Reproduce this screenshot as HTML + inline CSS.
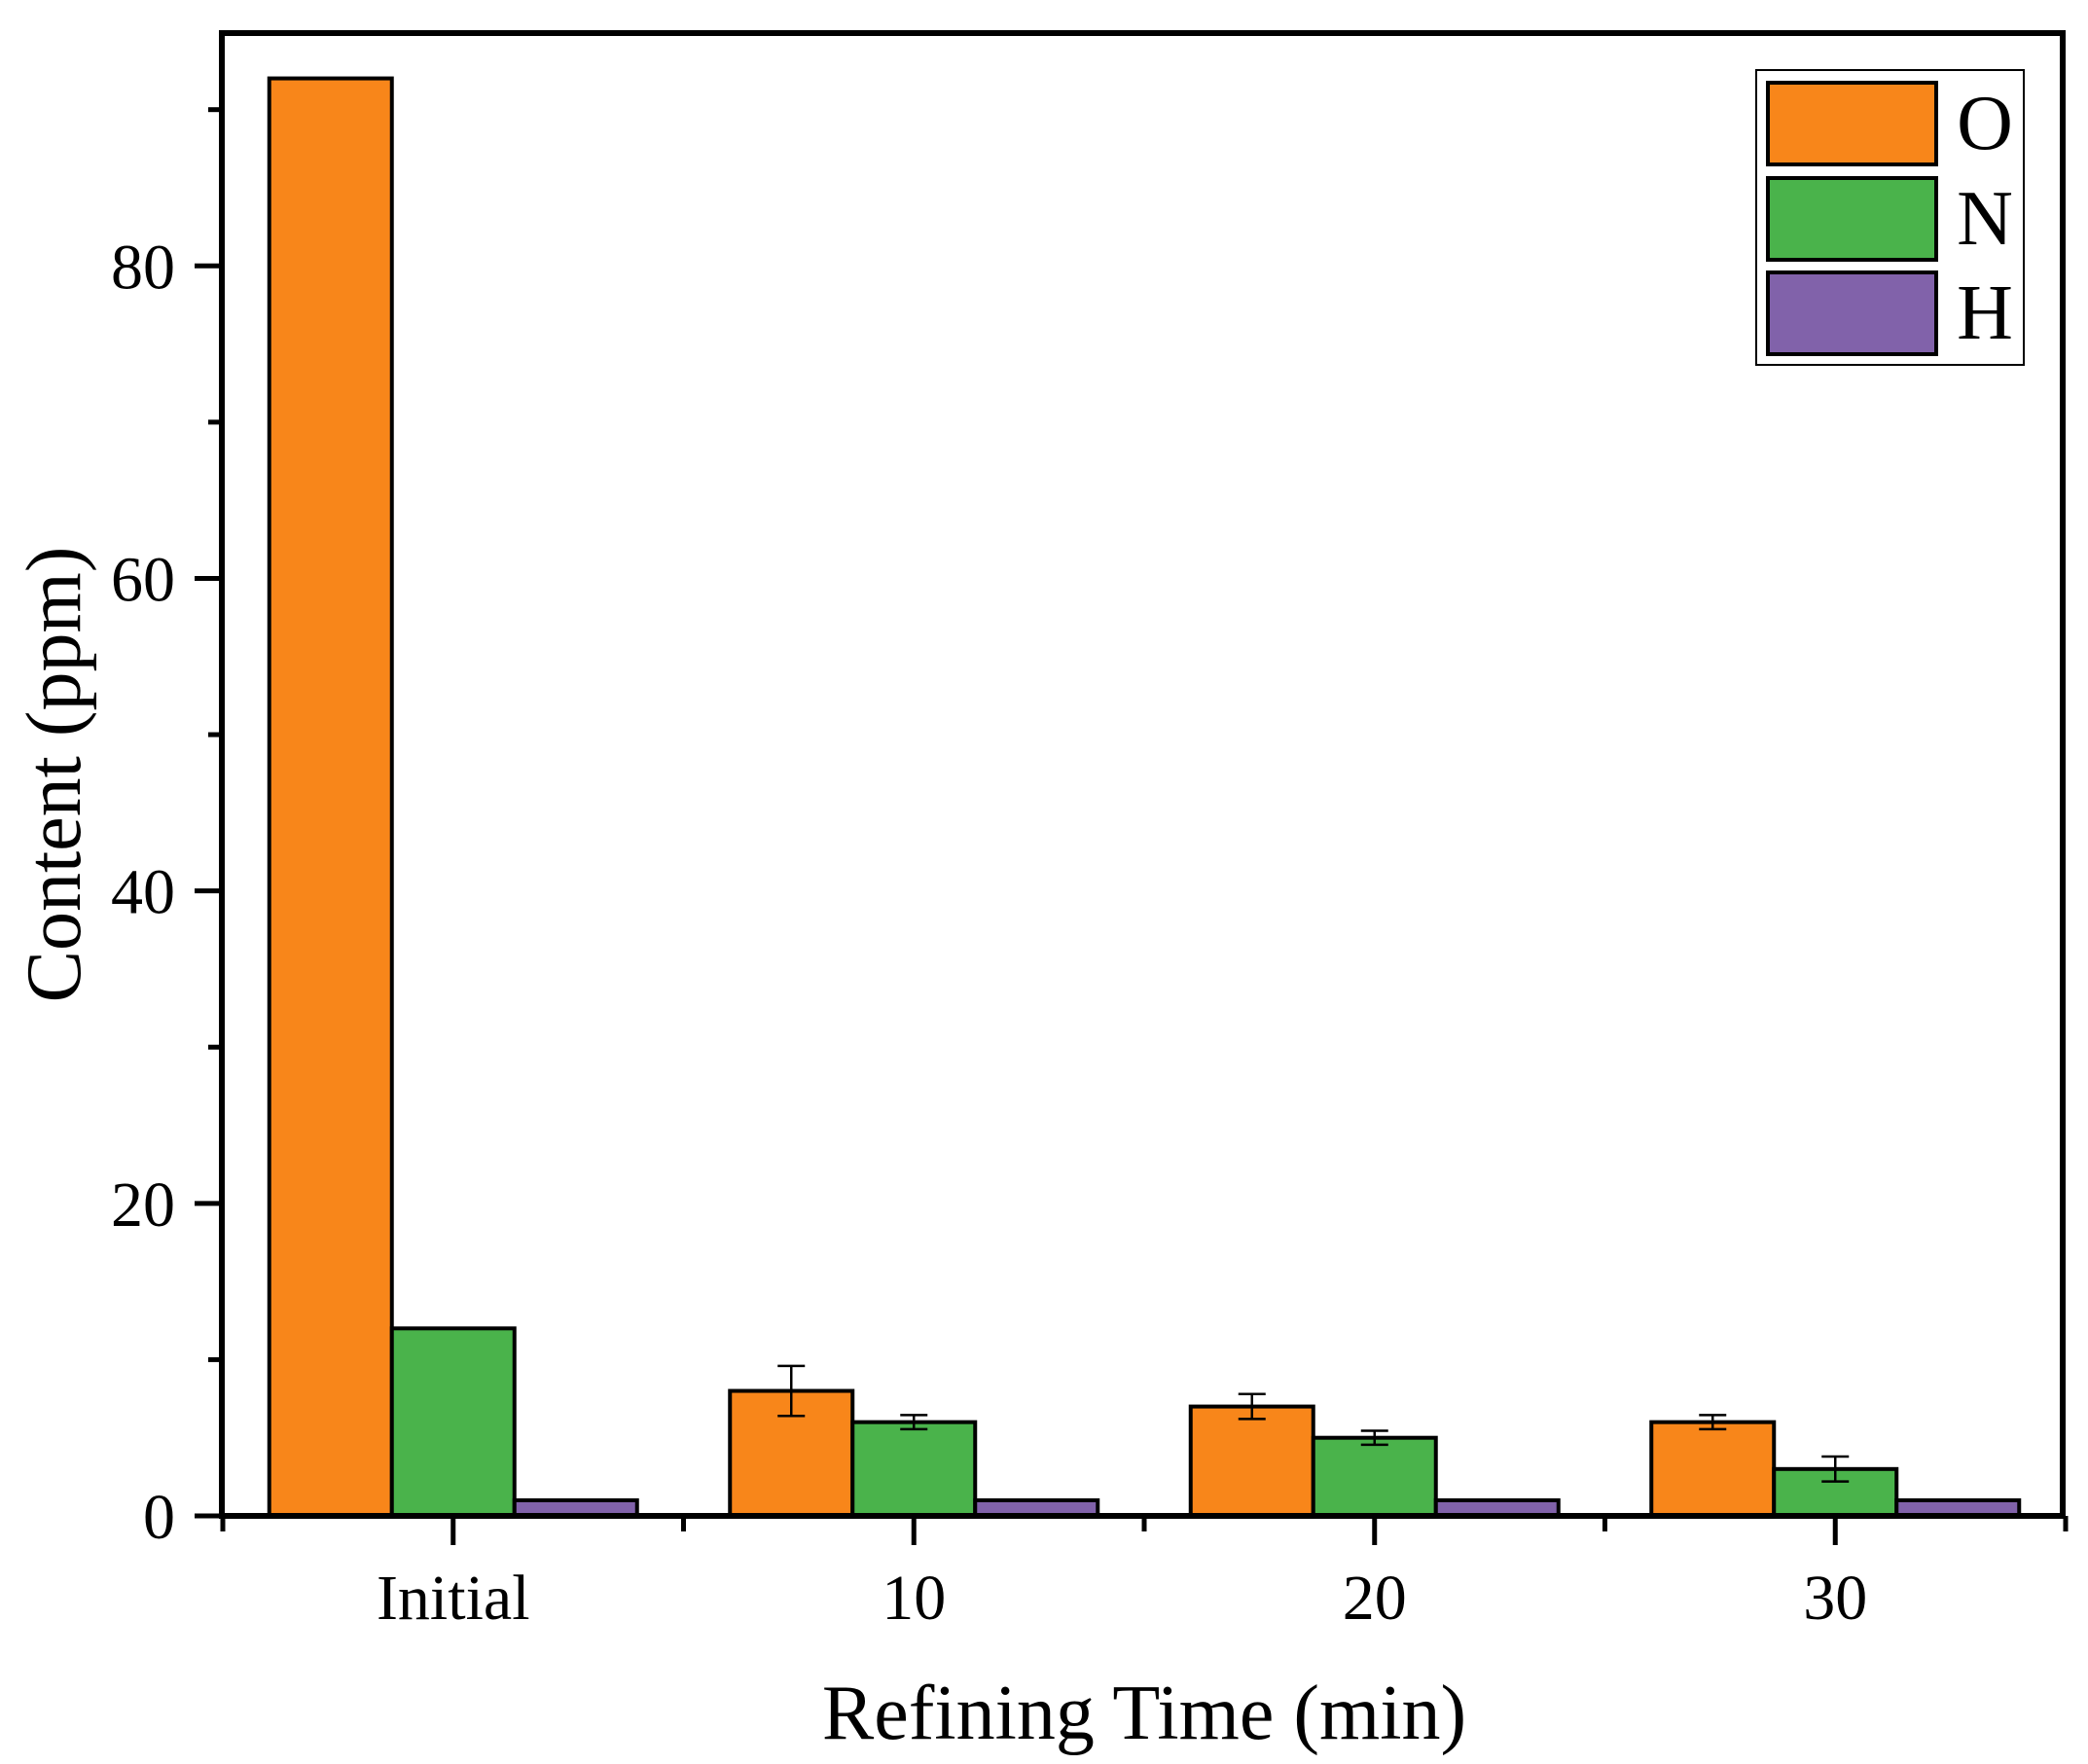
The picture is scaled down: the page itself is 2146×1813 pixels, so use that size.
<!DOCTYPE html>
<html><head><meta charset="utf-8"><style>
html,body{margin:0;padding:0;background:#fff;}
svg{display:block;font-family:"Liberation Serif",serif;}
</style></head><body>
<svg id="chart" width="2146" height="1813" viewBox="0 0 2146 1813" xmlns="http://www.w3.org/2000/svg">
<rect x="0" y="0" width="2146" height="1813" fill="#fff"/>
<g id="bars"></g>
<g id="axes"></g>
<text x="1176" y="1787" font-size="80" text-anchor="middle">Refining Time (min)</text>
<text transform="translate(82,796) rotate(-90)" font-size="80" text-anchor="middle">Content (ppm)</text>
<g>
<rect x="1805" y="72" width="275" height="303" fill="#fff" stroke="#000" stroke-width="2"/>
<g><rect x="1817" y="85" width="173" height="84" fill="#F8861A" stroke="#000" stroke-width="4"/><text x="2040" y="153" font-size="80" text-anchor="middle">O</text></g>
<g><rect x="1817" y="183" width="173" height="84" fill="#4AB34B" stroke="#000" stroke-width="4"/><text x="2040" y="251" font-size="80" text-anchor="middle">N</text></g>
<g><rect x="1817" y="280" width="173" height="84" fill="#8162AA" stroke="#000" stroke-width="4"/><text x="2040" y="348" font-size="80" text-anchor="middle">H</text></g>
</g>
</svg>
<script>
const categories = ["Initial", "10", "20", "30"];
const seriesNames = ["O", "N", "H"];
const valuesO = [92, 8, 7, 6];
const valuesN = [12, 6, 5, 3];
const valuesH = [1, 1, 1, 1];
const errO = [0, 1.6, 0.8, 0.45];
const errN = [0, 0.45, 0.45, 0.8];
const errH = [0, 0, 0, 0];
const yTicks = [0, 20, 40, 60, 80];
const yMinorTicks = [10, 30, 50, 70, 90];

const colors = ["#F8861A", "#4AB34B", "#8162AA"];
const NS = "http://www.w3.org/2000/svg";
const L = 228, R = 2120, T = 34, B = 1558;
const yMax = 94.9;
function yScale(v){ return B - v * (B - T) / yMax; }
const groupStart = 229, groupW = 473.5;
function xCenter(i){ return groupStart + groupW * (i + 0.5); }
const barW = 126;

function mk(tag, attrs, parent){
  const el = document.createElementNS(NS, tag);
  for (const k in attrs) el.setAttribute(k, attrs[k]);
  parent.appendChild(el);
  return el;
}
const bars = document.getElementById('bars');
const axes = document.getElementById('axes');
const allVals = [valuesO, valuesN, valuesH];
const allErr = [errO, errN, errH];
categories.forEach((c, i) => {
  allVals.forEach((vals, s) => {
    const x = xCenter(i) + (s - 1.5) * barW;
    const y = yScale(vals[i]);
    const r = mk('rect', {x: x, y: y, width: barW, height: B - y, fill: colors[s], stroke: '#000', 'stroke-width': 4}, bars);
    
    
    const e = allErr[s][i];
    if (e > 0) {
      const cx = x + barW / 2;
      const g = mk('g', {stroke: '#000', 'stroke-width': 2.5}, bars);
      
      
      mk('line', {x1: cx, x2: cx, y1: yScale(vals[i] + e), y2: yScale(vals[i] - e)}, g);
      mk('line', {x1: cx - 14, x2: cx + 14, y1: yScale(vals[i] + e), y2: yScale(vals[i] + e)}, g);
      mk('line', {x1: cx - 14, x2: cx + 14, y1: yScale(vals[i] - e), y2: yScale(vals[i] - e)}, g);
    }
  });
  const tk = mk('line', {x1: xCenter(i), x2: xCenter(i), y1: B, y2: B + 30, stroke: '#000', 'stroke-width': 5}, axes);
  
  
  const t = mk('text', {x: xCenter(i), y: 1664, 'font-size': 66, 'text-anchor': 'middle'}, axes);
  t.textContent = c;
  
  
});
for (let i = 0; i <= categories.length; i++) {
  const x = groupStart + groupW * i;
  const tk = mk('line', {x1: x, x2: x, y1: B, y2: B + 16, stroke: '#000', 'stroke-width': 5}, axes);
  
  
}
yTicks.forEach(v => {
  const y = yScale(v);
  const tk = mk('line', {x1: L - 28, x2: L, y1: y, y2: y, stroke: '#000', 'stroke-width': 5}, axes);
  
  
  const t = mk('text', {x: 180, y: y + 23, 'font-size': 66, 'text-anchor': 'end'}, axes);
  t.textContent = v;
  
  
});
yMinorTicks.forEach(v => {
  const y = yScale(v);
  const tk = mk('line', {x1: L - 14, x2: L, y1: y, y2: y, stroke: '#000', 'stroke-width': 5}, axes);
  
  
});
const frame = mk('rect', {x: L, y: T, width: R - L, height: B - T, fill: 'none', stroke: '#000', 'stroke-width': 6}, axes);


</script>
</body></html>
